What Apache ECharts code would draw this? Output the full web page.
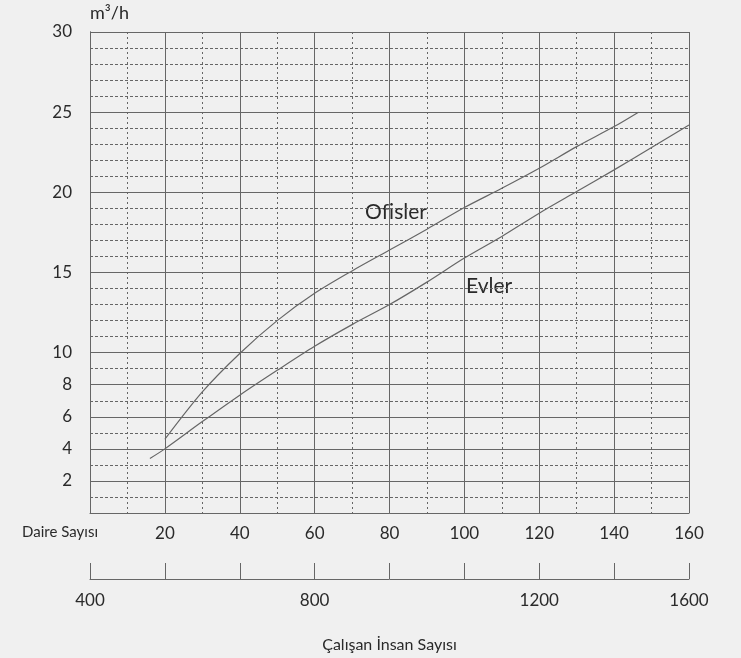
<!DOCTYPE html>
<html>
<head>
<meta charset="utf-8">
<script src="https://cdn.jsdelivr.net/npm/echarts@6/dist/echarts.min.js"></script>
<style>
html,body{margin:0;padding:0;background:#f0f0f0;}
#c{width:741px;height:658px;}
</style>
</head>
<body>
<div id="c"></div>
<script>
// ---- data ----
const ofislerX = [20, 30, 40, 50, 60, 70, 80, 90, 100, 110, 120, 130, 140, 146.5];
const ofislerY = [4.6, 7.55, 9.95, 12.0, 13.7, 15.1, 16.4, 17.7, 19.05, 20.25, 21.5, 22.85, 24.1, 25.0];
const evlerX = [16, 20, 30, 40, 50, 60, 70, 80, 90, 100, 110, 120, 130, 140, 150, 160];
const evlerY = [3.4, 4.0, 5.7, 7.35, 8.9, 10.4, 11.75, 13.0, 14.4, 15.9, 17.25, 18.7, 20.05, 21.4, 22.8, 24.2];
const yTickLabels = [30, 25, 20, 15, 10, 8, 6, 4, 2];
const ySolidLines = [0, 2, 4, 6, 8, 10, 15, 20, 25, 30];
const daireTicks = [20, 40, 60, 80, 100, 120, 140, 160];
const insanTickPos = [0, 60, 120, 160];
const insanTickLabels = ['400', '800', '1200', '1600'];

const FONT = 'Lato, "Open Sans", sans-serif';
const TXT = '#2a2a2a';
const LINE = '#666';

const yMax = 30;
const solidColors = [], dashColors = [];
for (let v = 0; v <= yMax; v++) {
  const solid = ySolidLines.indexOf(v) >= 0;
  solidColors.push(solid ? LINE : 'rgba(0,0,0,0)');
  dashColors.push(solid ? 'rgba(0,0,0,0)' : LINE);
}

const chart = echarts.init(document.getElementById('c'));
chart.setOption({
  backgroundColor: '#f0f0f0',
  animation: false,
  textStyle: { fontFamily: FONT },
  grid: { left: 90, top: 32, right: 52, bottom: 145, containLabel: false },
  xAxis: [
    {
      type: 'value', min: 0, max: 160, interval: 20, position: 'bottom',
      axisLine: { show: true, lineStyle: { color: LINE, width: 1 } },
      axisTick: { show: false },
      minorTick: { show: false, splitNumber: 2 },
      minorSplitLine: { show: true, lineStyle: { color: LINE, width: 1, type: [2, 3] } },
      splitLine: { show: true, lineStyle: { color: LINE, width: 1 } },
      axisLabel: {
        color: TXT, fontSize: 17, fontFamily: FONT, margin: 12,
        formatter: v => daireTicks.indexOf(v) >= 0 ? String(v) : ''
      },
      name: 'Daire Sayısı', nameLocation: 'start', nameGap: -8,
      nameTextStyle: { color: TXT, fontSize: 15, fontFamily: FONT, align: 'right', verticalAlign: 'top', padding: [12, 0, 0, 0] }
    },
    {
      type: 'value', min: 0, max: 160, interval: 20, position: 'bottom', offset: 66,
      axisLine: { show: true, onZero: false, lineStyle: { color: LINE, width: 1 } },
      axisTick: { show: true, inside: true, length: 16, lineStyle: { color: LINE, width: 1 } },
      splitLine: { show: false },
      axisLabel: {
        color: TXT, fontSize: 17, fontFamily: FONT, margin: 13,
        formatter: v => { const i = insanTickPos.indexOf(v); return i >= 0 ? insanTickLabels[i] : ''; }
      },
      name: 'Çalışan İnsan Sayısı', nameLocation: 'middle', nameGap: 58,
      nameTextStyle: { color: TXT, fontSize: 16, fontFamily: FONT }
    }
  ],
  yAxis: [
    {
      type: 'value', min: 0, max: yMax, interval: 1, position: 'left',
      axisLine: { show: true, lineStyle: { color: LINE, width: 1 } },
      axisTick: { show: false },
      splitLine: { show: true, lineStyle: { color: solidColors, width: 1 } },
      axisLabel: {
        color: TXT, fontSize: 17, fontFamily: FONT, margin: 18,
        formatter: v => yTickLabels.indexOf(v) >= 0 ? String(v) : ''
      },
      name: 'm³/h', nameLocation: 'end', nameGap: 10,
      nameTextStyle: { color: TXT, fontSize: 18, fontFamily: FONT, align: 'left', padding: [0, 0, 0, 0] }
    },
    {
      type: 'value', min: 0, max: yMax, interval: 1, position: 'right',
      axisLine: { show: true, lineStyle: { color: LINE, width: 1 } },
      axisTick: { show: false },
      axisLabel: { show: false },
      splitLine: { show: true, lineStyle: { color: dashColors, width: 1, type: [3, 2] } }
    }
  ],
  series: [
    {
      name: 'Ofisler', type: 'line', xAxisIndex: 0, yAxisIndex: 0,
      data: ofislerX.map((x, i) => [x, ofislerY[i]]),
      smooth: 0.3, showSymbol: false, symbol: 'none',
      lineStyle: { color: LINE, width: 1.2 }, z: 5
    },
    {
      name: 'Evler', type: 'line', xAxisIndex: 0, yAxisIndex: 0,
      data: evlerX.map((x, i) => [x, evlerY[i]]),
      smooth: 0.3, showSymbol: false, symbol: 'none',
      lineStyle: { color: LINE, width: 1.2 }, z: 5
    }
  ],
  graphic: [
    { type: 'text', left: 365, top: 202, style: { text: 'Of\u200Cisler', fill: TXT, font: '21px ' + FONT } },
    { type: 'text', left: 466, top: 276, style: { text: 'Evler', fill: TXT, font: '21px ' + FONT } }
  ]
});
</script>
</body>
</html>
